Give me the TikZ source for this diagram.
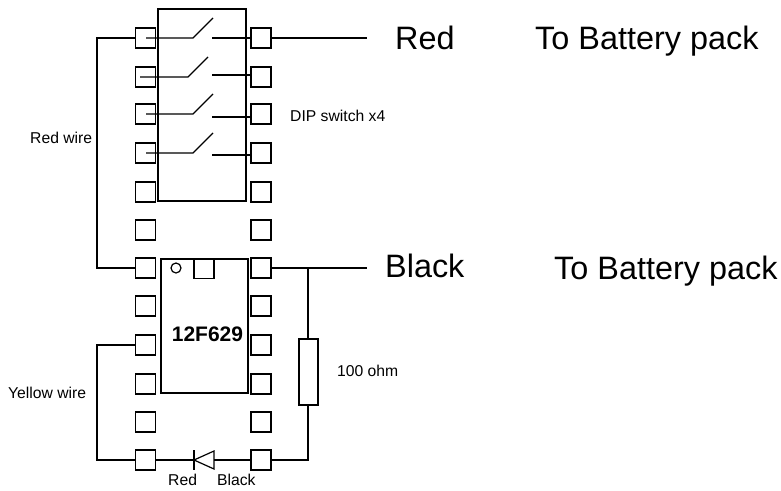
\documentclass[tikz,border=0pt]{standalone}
\usepackage{fontspec}
\setmainfont{Liberation Sans}
\usetikzlibrary{calc}
\tikzset{
  wire/.style={line width=1.2pt},
  pad/.style={draw,line width=1.2pt,minimum size=20pt,inner sep=0pt},
  pcb/.style={draw,line width=1.2pt,inner sep=0pt},
  bigtext/.style={inner sep=0pt,anchor=base west,font=\fontsize{32.4}{34}\selectfont},
  smalltext/.style={inner sep=0pt,anchor=base west,font=\fontsize{15.7}{18}\selectfont}
}
\begin{document}
\begin{tikzpicture}[x=1pt,y=-1pt]
  \useasboundingbox (0,0) rectangle (781,490);
  % packages
  \node[pcb,minimum width=88pt,minimum height=192pt](dip)at(202,105){};
  \node[pcb,minimum width=87pt,minimum height=134pt](pic)at(204.5,326){};
  % sockets, top half
  \foreach \i/\y in {1/38,2/77,3/114,4/153,5/192,6/230}{
    \node[pad](l\i)at(145.5,\y){};
    \node[pad](r\i)at(261,\y){};
  }
  % sockets, bottom half
  \foreach \i/\y in {7/268,8/306,9/345,10/384,11/422,12/460}{
    \node[pad](l\i)at(145.5,\y){};
    \node[pad](r\i)at(261,\y){};
  }
  \node[pad](notch)at(204,268.5){};
  \node[circle,draw,line width=1.2pt,minimum size=10pt,inner sep=0pt](dot)at(176,268){};
  % switches
  \foreach \i/\hx/\hy/\ax/\py in {1/193/38/146/38,2/188/77/140/75,3/193/114/146/117,4/193/153/146/155}{
    \coordinate(h\i)at(\hx,\hy);
    \coordinate(a\i)at(\ax,\hy);
    \coordinate(t\i)at(\hx+20,\hy-20);
    \coordinate(c\i)at(212,\py);
    \draw[wire](a\i)--(h\i)--(t\i);
    \draw[wire](c\i)--(c\i-|r\i.west);
  }
  % wires to the battery
  \coordinate(redend)at(367,38);
  \coordinate(blackend)at(367,268);
  \coordinate(redcorner)at(97,39);
  \coordinate(jn)at(308,268);
  \draw[wire](r1.east)--(redend);
  \draw[wire](r7.east)--(blackend);
  \draw[wire](l1.west)--(l1.west-|redcorner)--(l7.west-|redcorner)--(l7.west);
  \draw[wire](l9.west)--(l9.west-|redcorner)--(l12.west-|redcorner)--(l12.west);
  % resistor
  \node[pcb,minimum width=19pt,minimum height=66pt](res)at(308.5,372){};
  \draw[wire](jn)--(res.north-|jn);
  \draw[wire](res.south-|jn)--(r12.east-|jn)--(r12.east);
  % diode
  \coordinate(ka)at(194,460);
  \coordinate(an)at(214,460);
  \draw[wire](194,450)--(194,470);
  \draw[wire](ka)--(214,451)--(214,469)--cycle;
  \draw[wire](l12.east)--(ka);
  \draw[wire](an)--(r12.west);
  % labels
  \node[bigtext](redlbl)at(395,49){Red};
  \node[bigtext](bat1)at(535,49){To Battery pack};
  \node[bigtext](blacklbl)at(385,277){Black};
  \node[bigtext](bat2)at(554,279){To Battery pack};
  \node[smalltext](diplbl)at(290,121){DIP switch x4};
  \node[smalltext](redw)at(30,143){Red wire};
  \node[smalltext](yelw)at(8,398){Yellow wire};
  \node[smalltext](ohm)at(337,376){100 ohm};
  \node[smalltext](dred)at(168,485){Red};
  \node[smalltext](dblack)at(217,485){Black};
  \node[inner sep=0pt,anchor=base,font=\fontsize{21}{24}\selectfont\bfseries](chip)at(207.5,341){12F629};
\end{tikzpicture}
\end{document}
